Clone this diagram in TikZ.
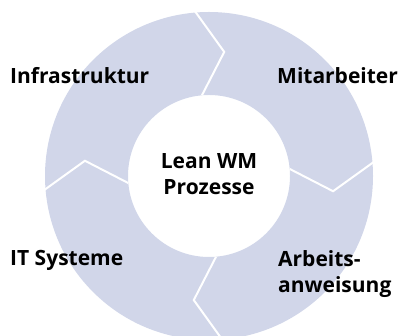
\documentclass[tikz,border=0pt]{standalone}
\usepackage{fontspec}
\setmainfont{Open Sans}
\usepackage{tikz}
\usetikzlibrary{calc}

\definecolor{ringblue}{RGB}{209,214,233}

\tikzset{
  seglabel/.style={font=\bfseries\fontsize{21}{26}\selectfont, inner sep=0pt, align=left},
  gap/.style={draw=white, line width=2pt, line join=miter}
}

\begin{document}
\begin{tikzpicture}[x=1pt, y=1pt]
        \useasboundingbox (0,0) rectangle (403,336);
        \clip (0,0) rectangle (403,336);
        \coordinate (m) at (209,160);
        % ring with the white hole
        \fill[ringblue, even odd rule] (m) circle (164) (m) circle (81);
        % chevron gaps between the four parts
        \foreach \a in {95,5,-85,185}
            \draw[gap] ($(m)+(\a:81)$) -- ($(m)+(\a-12:125)$) -- ($(m)+(\a:166)$);
        \node[seglabel, anchor=base west] (infra) at (10,252) {Infrastruktur};
        \node[seglabel, anchor=base west] (mitarb) at (277,252) {Mitarbeiter};
        \node[seglabel, anchor=base west] (itsys) at (10,70) {IT Systeme};
        \node[seglabel, anchor=base west] (anw) at (278,43) {Arbeits-\\anweisung};
        \node[seglabel, align=center, anchor=base] (lean) at (m |- 0,141) {Lean WM\\Prozesse};
    \end{tikzpicture}
\end{document}
